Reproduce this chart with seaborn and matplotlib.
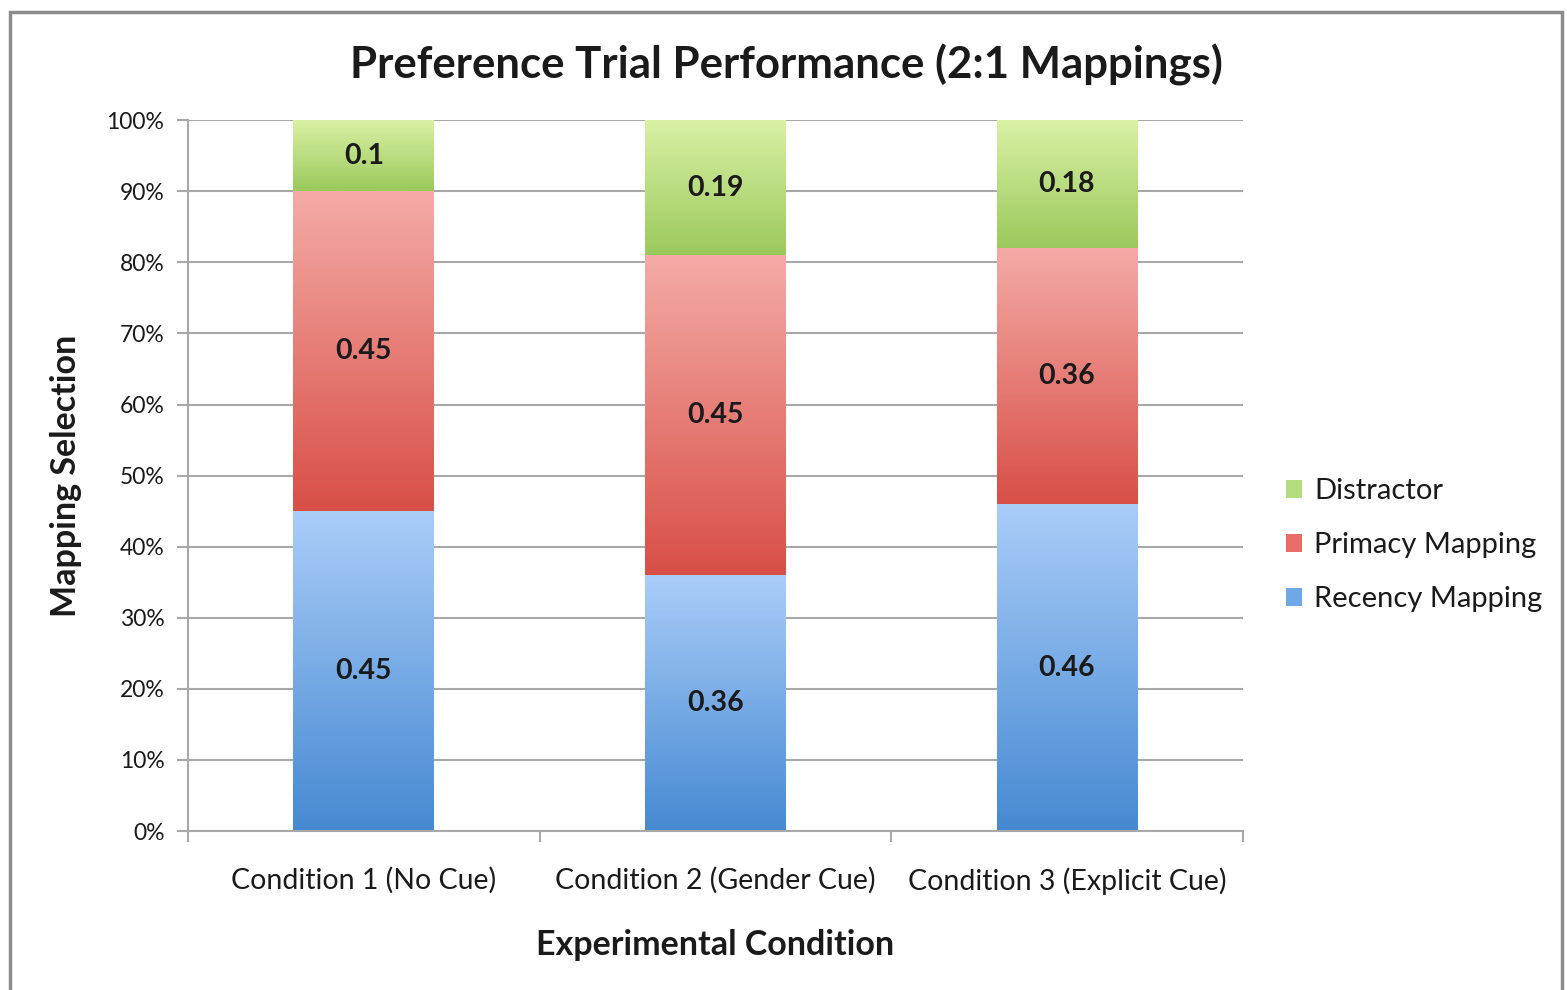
import numpy as np
import pandas as pd
import seaborn as sns
import matplotlib.pyplot as plt
from matplotlib.colors import LinearSegmentedColormap
from matplotlib.patches import Rectangle, Patch
from matplotlib.ticker import PercentFormatter, FixedLocator

# DATA
conditions = ["Condition 1 (No Cue)", "Condition 2 (Gender Cue)", "Condition 3 (Explicit Cue)"]
recency = [0.45, 0.36, 0.46]
primacy = [0.45, 0.45, 0.36]
distractor = [0.10, 0.19, 0.18]

series_names = ["Recency Mapping", "Primacy Mapping", "Distractor"]

# (top, bottom) colour of the gradient in every stacked segment
gradients = {
    "Recency Mapping": ("#aacdf8", "#4689d2"),
    "Primacy Mapping": ("#f4aba7", "#d84f47"),
    "Distractor": ("#daf1a6", "#9bc95c"),
}
legend_colors = {
    "Recency Mapping": "#6fa8e6",
    "Primacy Mapping": "#e66e66",
    "Distractor": "#b5dc7e",
}

GRID = "#a8a8a8"
TEXT = "#1a1a1a"


def main():
    df = pd.DataFrame({
        "condition": conditions,
        "Recency Mapping": recency,
        "Primacy Mapping": primacy,
        "Distractor": distractor,
    })

    sns.set_theme(style="white")
    plt.rcParams["font.family"] = ["Lato", "DejaVu Sans"]

    fig = plt.figure(figsize=(15.67, 9.9), dpi=100)
    ax = fig.add_axes([0.120, 0.1606, 0.673, 0.718])

    grad = np.linspace(0, 1, 256).reshape(-1, 1)
    bottom = np.zeros(len(conditions))
    for name in series_names:
        n_before = len(ax.patches)
        sns.barplot(data=df, x="condition", y=name, bottom=bottom,
                    color=legend_colors[name], saturation=1, width=0.4, ax=ax)
        top_col, bot_col = gradients[name]
        cmap = LinearSegmentedColormap.from_list(name, [bot_col, top_col])
        for p, v in zip(ax.patches[n_before:], df[name]):
            x0, y0, w, h = p.get_x(), p.get_y(), p.get_width(), p.get_height()
            ax.imshow(grad, cmap=cmap, extent=[x0, x0 + w, y0, y0 + h],
                      origin="lower", aspect="auto", zorder=2)
            p.set_visible(False)
            ax.text(x0 + w / 2, y0 + h / 2, f"{v:g}", ha="center", va="center",
                    fontsize=20.5, fontweight="bold", color=TEXT, zorder=3)
        bottom = bottom + df[name].values

    ax.set_xlim(-0.5, 2.5)
    ax.set_ylim(0, 1)
    ax.set_yticks(np.arange(0, 1.01, 0.1))
    ax.yaxis.set_major_formatter(PercentFormatter(1.0, decimals=0))
    ax.xaxis.set_minor_locator(FixedLocator([-0.5, 0.5, 1.5, 2.5]))
    ax.yaxis.grid(True, color=GRID, linewidth=1.5)
    ax.set_axisbelow(True)

    ax.tick_params(axis="y", which="major", left=True, length=8, width=1.5,
                   color=GRID, labelsize=16.5, labelcolor=TEXT, pad=9)
    ax.tick_params(axis="x", which="major", bottom=False, labelsize=20.5,
                   labelcolor=TEXT, pad=20)
    ax.tick_params(axis="x", which="minor", bottom=True, length=8, width=1.5,
                   color=GRID)

    for side in ["top", "right"]:
        ax.spines[side].set_visible(False)
    for side in ["left", "bottom"]:
        ax.spines[side].set_color(GRID)
        ax.spines[side].set_linewidth(1.5)

    ax.set_xlabel("Experimental Condition", fontsize=24.5, fontweight="bold",
                  color=TEXT, labelpad=25)
    ax.set_ylabel("Mapping Selection", fontsize=24.5, fontweight="bold",
                  color=TEXT, labelpad=18)

    fig.text(0.502, 0.934, "Preference Trial Performance (2:1 Mappings)",
             ha="center", va="center", fontsize=31.5, fontweight="bold", color=TEXT)

    handles = [Patch(facecolor=legend_colors[n], edgecolor="none", label=n)
               for n in reversed(series_names)]
    fig.legend(handles=handles, loc="center left", bbox_to_anchor=(0.8115, 0.449),
               frameon=False, fontsize=21, handlelength=0.55, handleheight=0.55,
               handletextpad=0.4, labelspacing=0.96, borderpad=0,
               labelcolor=TEXT)

    # outer chart border as in the screenshot
    fig.patches.append(Rectangle((0.0065, -0.05), 0.9905, 1.038, transform=fig.transFigure,
                                 fill=False, edgecolor="#8c8c8c", linewidth=2.5,
                                 clip_on=False))

    fig.savefig("out.png", dpi=100, facecolor="white")
    plt.close(fig)


if __name__ == "__main__":
    main()
